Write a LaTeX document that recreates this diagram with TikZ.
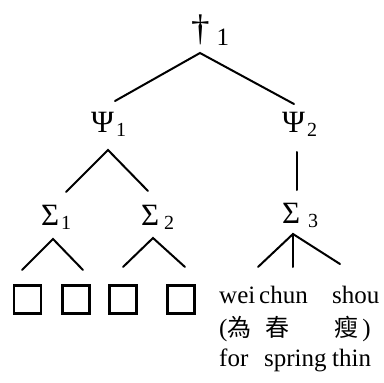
\documentclass[tikz,border=0pt]{standalone}
\usepackage{fontspec}
\setmainfont{Liberation Serif}
\newfontfamily\cjk{Noto Sans CJK TC}
% category label: large symbol with a lowered index
\newcommand{\catlabel}[3][0pt]{{\fontsize{31}{31}\selectfont #2}\hspace{#1}{\fontsize{20}{20}\selectfont\raisebox{-4pt}{#3}}}
\begin{document}
\begin{tikzpicture}[x=1pt,y=-1pt,
  lbl/.style={inner sep=0pt, anchor=base west},
  word/.style={inner sep=0pt, anchor=base west, font=\fontsize{25}{25}\selectfont},
  cjkword/.style={inner sep=0pt, anchor=base west, font=\fontsize{24}{24}\selectfont\cjk},
  edge/.style={line width=2pt, line cap=round},
  slot/.style={draw, line width=2.4pt, minimum width=27pt, minimum height=28pt, inner sep=0pt}]
\useasboundingbox (0,0) rectangle (384,383);

% labels
\node[lbl] (dag) at (191,40) {{\fontsize{37}{37}\selectfont †}\hspace{7pt}{\fontsize{25}{25}\selectfont\raisebox{-5pt}{1}}};
\node[lbl] (psi1) at (91,132) {\catlabel[2pt]{Ψ}{1}};
\node[lbl] (psi2) at (282,132) {\catlabel[2pt]{Ψ}{2}};
\node[lbl] (sig1) at (41,225) {\catlabel[2pt]{Σ}{1}};
\node[lbl] (sig2) at (141,225) {\catlabel[5pt]{Σ}{2}};
\node[lbl] (sig3) at (282,223) {\catlabel[8pt]{Σ}{3}};

% attachment points of the branches
\coordinate (dag-foot) at (200,53);
\coordinate (psi1-top) at (115,101);
\coordinate (psi2-top) at (294,104);
\coordinate (psi1-foot) at (108,150);
\coordinate (psi2-foot) at (297,152);
\coordinate (sig1-top) at (66,192);
\coordinate (sig2-top) at (148,191);
\coordinate (sig3-top) at (297,190);
\coordinate (sig1-foot) at (53,239);
\coordinate (sig2-foot) at (153,238);
\coordinate (sig3-foot) at (293,234);
\coordinate (b1-top) at (22,270);
\coordinate (b2-top) at (83,270);
\coordinate (b3-top) at (123,267);
\coordinate (b4-top) at (185,267);
\coordinate (w1-top) at (258,267);
\coordinate (w2-top) at (293,267);
\coordinate (w3-top) at (340,264);

% empty slots
\node[slot] (b1) at (27.5,299.5) {};
\node[slot] (b2) at (76,299.5) {};
\node[slot] (b3) at (123,299.5) {};
\node[slot] (b4) at (181,299.5) {};

% words of the third constituent
\node[word] (wei) at (219,303) {wei};
\node[word] (chun) at (259,303) {chun};
\node[word] (shou) at (332,303) {shou};
\node[word] (wei-zh) at (219,336) {({\cjk\fontsize{24}{24}\selectfont 為}};
\node[cjkword] (chun-zh) at (265,336) {春};
\node[word] (shou-zh) at (334,336) {{\cjk\fontsize{24}{24}\selectfont 瘦}\,)};
\node[word] (for) at (219,366) {for};
\node[word] (spring) at (264,366) {spring};
\node[word] (thin) at (332,366) {thin};

% branches
\draw[edge] (psi1-top) -- (dag-foot) -- (psi2-top);
\draw[edge] (sig1-top) -- (psi1-foot) -- (sig2-top);
\draw[edge] (psi2-foot) -- (sig3-top);
\draw[edge] (b1-top) -- (sig1-foot) -- (b2-top);
\draw[edge] (b3-top) -- (sig2-foot) -- (b4-top);
\draw[edge] (w1-top) -- (sig3-foot) -- (w3-top);
\draw[edge] (sig3-foot) -- (w2-top);
\end{tikzpicture}
\end{document}
